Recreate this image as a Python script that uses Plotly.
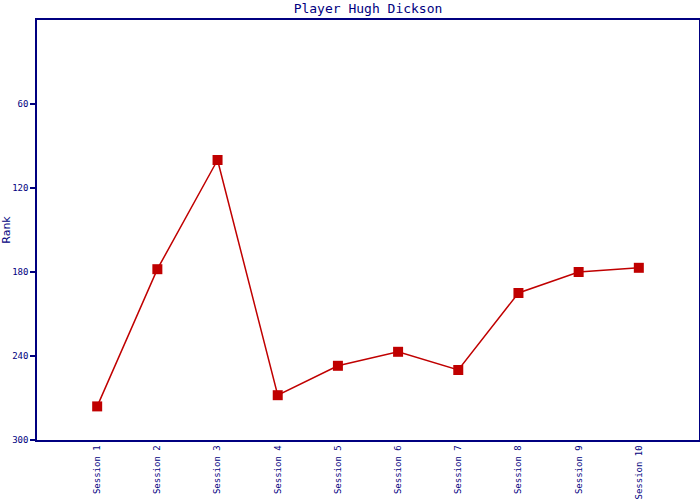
import plotly.graph_objects as go

sessions = ["Session 1", "Session 2", "Session 3", "Session 4", "Session 5",
            "Session 6", "Session 7", "Session 8", "Session 9", "Session 10"]
ranks = [276, 178, 100, 268, 247, 237, 250, 195, 180, 177]
y_ticks = [60, 120, 180, 240, 300]

navy = "#000080"
red = "#C00000"

xpos = list(range(1, len(sessions) + 1))

fig = go.Figure()
fig.add_trace(go.Scatter(
    x=xpos, y=ranks, mode="lines+markers",
    line=dict(color=red, width=1.5),
    marker=dict(symbol="square", size=10, color=red),
    showlegend=False,
))

fig.update_layout(
    width=700, height=500,
    margin=dict(l=37, r=1, t=20, b=60, autoexpand=False),
    paper_bgcolor="white", plot_bgcolor="white",
    title=dict(text="Player Hugh Dickson", x=0.5, xanchor="center", xref="paper",
               y=0.983, yanchor="middle",
               font=dict(family="DejaVu Sans Mono", size=13, color=navy)),
)
fig.update_xaxes(
    range=[0, len(sessions) + 1], tickmode="array", tickvals=xpos, ticktext=sessions,
    tickangle=-90, showgrid=False, zeroline=False, automargin=False,
    showline=True, linecolor=navy, linewidth=1.5, mirror=True,
    ticks="", tickfont=dict(family="DejaVu Sans Mono", size=9, color=navy),
)
fig.update_yaxes(
    range=[300, 0], tickmode="array", tickvals=y_ticks,
    showgrid=False, zeroline=False, automargin=False,
    showline=True, linecolor=navy, linewidth=1.5, mirror=True,
    ticks="outside", ticklen=5, tickcolor=navy, tickwidth=1.5,
    tickfont=dict(family="DejaVu Sans Mono", size=9, color=navy),
    title=dict(text="Rank", standoff=6, font=dict(family="DejaVu Sans", size=11, color=navy)),
)

fig.write_html("out.html", config={"displayModeBar": False},
               post_script="document.body.style.margin='0';document.body.style.overflow='hidden';")
